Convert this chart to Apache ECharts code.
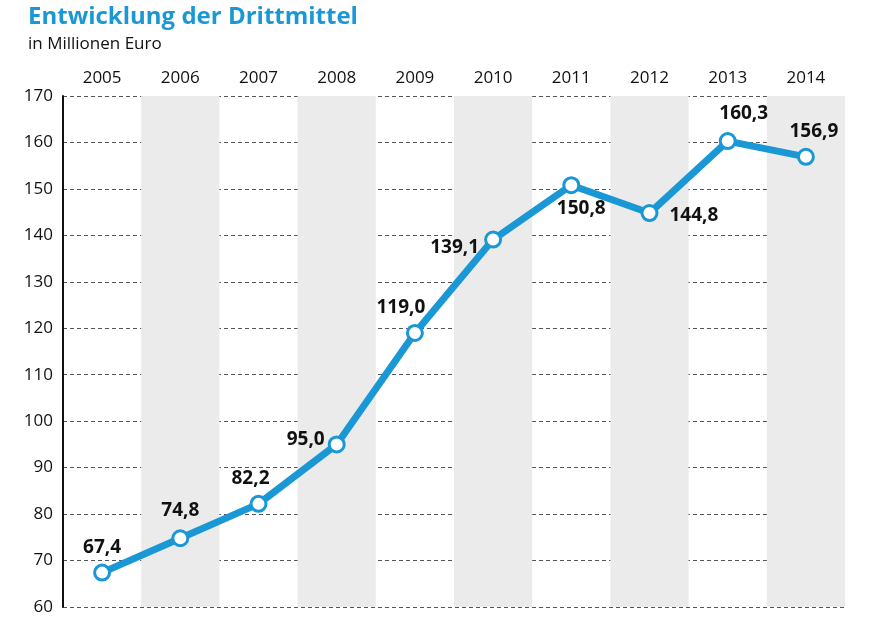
<!DOCTYPE html>
<html>
<head>
<meta charset="utf-8">
<title>Entwicklung der Drittmittel</title>
<script src="https://cdn.jsdelivr.net/npm/echarts@6/dist/echarts.min.js"></script>
<style>
  html, body { margin: 0; padding: 0; background: #fff; }
  #main { width: 870px; height: 619px; }
</style>
</head>
<body>
<div id="main"></div>
<script type="text/javascript">
// Jahre und Drittmittel (Mio. Euro)
var years = ['2005', '2006', '2007', '2008', '2009', '2010', '2011', '2012', '2013', '2014'];
var values = [67.4, 74.8, 82.2, 95.0, 119.0, 139.1, 150.8, 144.8, 160.3, 156.9];
var yTicks = [60, 70, 80, 90, 100, 110, 120, 130, 140, 150, 160, 170];

var blue = '#1a98d5';
var font = '"Open Sans", "Noto Sans", sans-serif';

// wo das Label am Punkt steht
var labelPos = [
    { position: 'top', offset: [0, -2] },
    { position: 'top', offset: [0, -4] },
    { position: 'top', offset: [-8, -2] },
    { position: 'left', offset: [2, -5] },
    { position: 'top', offset: [-14, -2] },
    { position: 'left', offset: [0, 8] },
    { position: 'bottom', offset: [10, 0] },
    { position: 'right', offset: [6, 3] },
    { position: 'top', offset: [16, -4] },
    { position: 'top', offset: [8, -2] }
];

var seriesData = values.map(function(v, i) {
    return {
        value: v,
        label: labelPos[i]
    };
});

var myChart = echarts.init(document.getElementById('main'));

myChart.setOption({
    animation: false,
    textStyle: { fontFamily: font },
    title: [{
        text: 'Entwicklung der Drittmittel',
        left: 23,
        top: 0,
        textStyle: { color: blue, fontSize: 24, fontWeight: 'bold', fontFamily: font }
    }, {
        text: 'in Millionen Euro',
        left: 23,
        top: 31,
        textStyle: { color: '#111', fontSize: 17, fontWeight: 'normal', fontFamily: font }
    }],
    grid: {
        left: 63,
        right: 25,
        top: 96,
        bottom: 12,
        containLabel: false
    },
    xAxis: {
        type: 'category',
        position: 'top',
        data: years,
        boundaryGap: true,
        axisLine: { show: false },
        axisTick: { show: false },
        axisLabel: { color: '#111', fontSize: 17, margin: 9, fontFamily: font },
        splitArea: {
            show: true,
            areaStyle: { color: ['rgba(255,255,255,0)', '#ebebeb'] }
        }
    },
    yAxis: {
        type: 'value',
        min: yTicks[0],
        max: yTicks[yTicks.length - 1],
        interval: 10,
        axisLine: { show: true, lineStyle: { color: '#111', width: 2 } },
        axisTick: { show: false },
        axisLabel: { color: '#111', fontSize: 17, margin: 10, fontFamily: font },
        splitLine: {
            show: true,
            lineStyle: { color: '#555', width: 1, type: [4, 3] }
        }
    },
    series: [{
        type: 'line',
        data: seriesData,
        symbol: 'circle',
        symbolSize: 15,
        lineStyle: { color: blue, width: 7 },
        itemStyle: { color: '#fff', borderColor: blue, borderWidth: 3 },
        label: {
            show: true,
            color: '#111',
            fontSize: 19,
            fontWeight: 'bold',
            fontFamily: font,
            formatter: function(p) {
                return p.value.toFixed(1).replace('.', ',');
            }
        },
        z: 5
    }]
});
</script>
</body>
</html>
